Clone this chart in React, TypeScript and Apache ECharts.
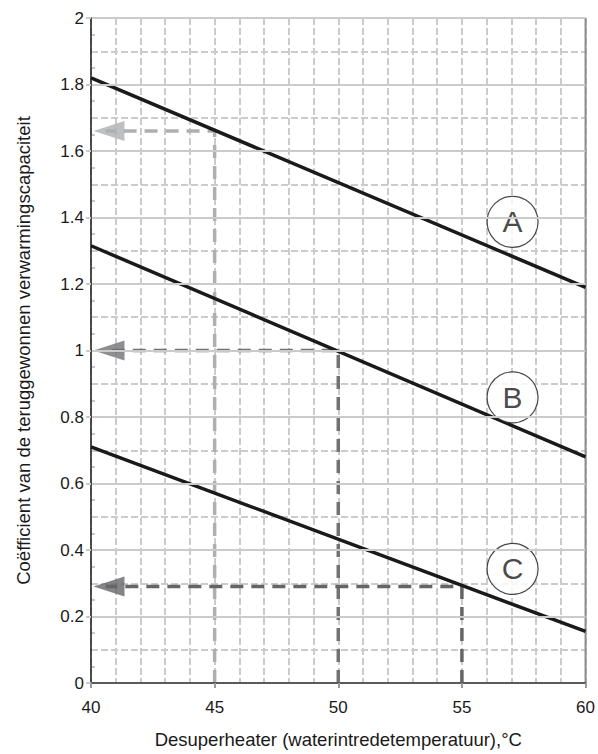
import React, { useEffect, useRef } from "react";
import * as echarts from "echarts";

// Data
const temps = [40, 60];
const lineA = [1.82, 1.19];
const lineB = [1.315, 0.68];
const lineC = [0.71, 0.155];
const curveNames = ["A", "B", "C"];
const labelTemp = 57.05;
const labelValues = [1.387, 0.859, 0.343];
const guideTemps = [45, 50, 55];
const guideValues = [1.66, 1.0, 0.29];
const guideColors = ["#aeafb1", "#727275", "#656568"];
const arrowTipTemp = 40.1;
const xTicks = [40, 45, 50, 55, 60];
const yTicks = [0, 0.2, 0.4, 0.6, 0.8, 1, 1.2, 1.4, 1.6, 1.8, 2];

const FONT = "'Liberation Sans', Arial, Helvetica, sans-serif";
const GRID_GRAY = "#cbcbcb";
const ARROW_PATH = "path://M0,5 L10,0 L10,10 Z";

export default function App() {
  const ref = useRef<HTMLDivElement>(null);
  useEffect(() => {
    if (!ref.current) return;
    const chart = echarts.init(ref.current, undefined, { renderer: "svg" });
    const curves = [lineA, lineB, lineC];
    const series: any[] = [];

    guideTemps.forEach((t, i) => {
      series.push({
        type: "line",
        xAxisIndex: 0,
        yAxisIndex: 0,
        data: [
          [t, 0],
          [t, guideValues[i]],
          [arrowTipTemp + 0.5, guideValues[i]],
        ],
        symbol: "none",
        lineStyle: { color: guideColors[i], width: 3.5, type: [13, 8], cap: "butt" },
        z: 3,
        silent: true,
      });
      series.push({
        type: "scatter",
        xAxisIndex: 0,
        yAxisIndex: 0,
        data: [[arrowTipTemp, guideValues[i]]],
        symbol: ARROW_PATH,
        symbolKeepAspect: false,
        symbolSize: [31, 20],
        symbolOffset: [15.5, 0],
        itemStyle: { color: guideColors[i] },
        z: 4,
        silent: true,
      });
    });

    curves.forEach((c, i) => {
      series.push({
        type: "line",
        name: curveNames[i],
        xAxisIndex: 0,
        yAxisIndex: 0,
        data: temps.map((t, j) => [t, c[j]]),
        symbol: "none",
        lineStyle: { color: "#1a1a1a", width: 3.5 },
        z: 5,
        silent: true,
      });
    });

    series.push({
      type: "line",
      xAxisIndex: 0,
      yAxisIndex: 0,
      data: [
        [60, 0],
        [60, 2],
      ],
      symbol: "none",
      lineStyle: { color: "#8c8c8c", width: 2 },
      z: 2,
      silent: true,
    });

    series.push({
      type: "scatter",
      xAxisIndex: 0,
      yAxisIndex: 0,
      data: labelValues.map((v, i) => ({ value: [labelTemp, v], name: curveNames[i] })),
      symbol: "circle",
      symbolSize: 51,
      itemStyle: { color: "#ffffff", borderColor: "#1a1a1a", borderWidth: 1.2 },
      label: {
        show: true,
        position: "inside",
        formatter: "{b}",
        color: "#1a1a1a",
        fontSize: 30,
        fontFamily: FONT,
      },
      z: 6,
      silent: true,
    });

    chart.setOption({
      animation: false,
      backgroundColor: "#ffffff",
      grid: { left: 91, right: 12, top: 18, bottom: 61, containLabel: false },
      xAxis: [
        {
          type: "value",
          min: xTicks[0],
          max: xTicks[xTicks.length - 1],
          interval: 5,
          position: "bottom",
          name: "Desuperheater (waterintredetemperatuur),°C",
          nameLocation: "middle",
          nameGap: 47,
          nameTextStyle: { fontSize: 18.5, color: "#1a1a1a", fontFamily: FONT },
          axisLine: { show: true, lineStyle: { color: "#5a5a5a", width: 2 } },
          axisTick: { show: true, length: 5, lineStyle: { color: "#9a9a9a", width: 2 } },
          axisLabel: { fontSize: 17, color: "#1a1a1a", fontFamily: FONT, margin: 16 },
          splitLine: { show: false },
          z: 10,
        },
        {
          type: "value",
          min: xTicks[0],
          max: xTicks[xTicks.length - 1],
          interval: 1,
          position: "bottom",
          axisLine: { show: false },
          axisTick: { show: false },
          axisLabel: { show: false },
          splitLine: { show: true, lineStyle: { color: GRID_GRAY, width: 2, type: [7, 3] } },
        },
      ],
      yAxis: [
        {
          type: "value",
          min: yTicks[0],
          max: yTicks[yTicks.length - 1],
          interval: 0.2,
          position: "left",
          name: "Coëfficient van de teruggewonnen verwarmingscapaciteit",
          nameLocation: "middle",
          nameGap: 58,
          nameTextStyle: { fontSize: 18.5, color: "#1a1a1a", fontFamily: FONT },
          axisLine: { show: true, lineStyle: { color: "#1a1a1a", width: 1.5 } },
          axisTick: { show: true, length: 5, lineStyle: { color: GRID_GRAY, width: 2 } },
          axisLabel: {
            fontSize: 17,
            color: "#1a1a1a",
            fontFamily: FONT,
            margin: 7,
            formatter: (v: number) => String(Math.round(v * 10) / 10),
          },
          splitLine: { show: true, lineStyle: { color: GRID_GRAY, width: 2, type: "solid" } },
          z: 10,
        },
        {
          type: "value",
          min: yTicks[0],
          max: yTicks[yTicks.length - 1],
          interval: 0.1,
          position: "left",
          axisLine: { show: false },
          axisTick: { show: false, inside: true },
          minorTick: { show: true, splitNumber: 2, length: 4, lineStyle: { color: "#b5b5b5", width: 1.5 } },
          axisLabel: { show: false },
          splitLine: { show: true, lineStyle: { color: GRID_GRAY, width: 2, type: [7, 3] } },
        },
      ],
      series,
    });
    return () => chart.dispose();
  }, []);
  return <div ref={ref} style={{ width: 598, height: 754, position: "absolute", left: 0, top: 0 }} />;
}
